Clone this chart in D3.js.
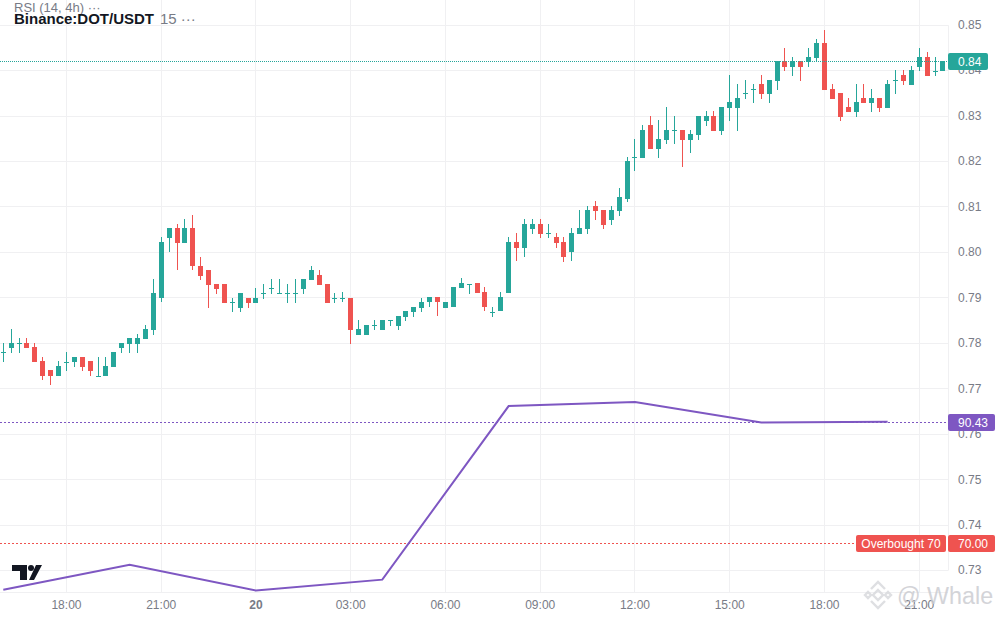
<!DOCTYPE html>
<html>
<head>
<meta charset="utf-8">
<script src="https://cdn.jsdelivr.net/npm/d3@7"></script>
<style>
  html, body { margin: 0; padding: 0; background: #fff; }
  svg { display: block; font-family: "Liberation Sans", Arial, sans-serif; }
</style>
</head>
<body>
<div id="vis"></div>
<script>
// 15 minute candles, one entry per bar, first bar is 16:00
const opens = [.778,.779,.78,.78,.7792,.7761,.7741,.7728,.776,.7759,.777,.7761,.7729,.7728,.7748,.779,.7799,.7799,.781,.783,
  .7898,.8031,.8053,.802,.8053,.7971,.7962,.7931,.7931,.7891,.7878,.79,.7889,.7911,.7922,.7911,.7911,.7911,.792,.794,
  .7951,.7931,.79,.79,.79,.7819,.7819,.7841,.783,.7851,.7839,.7859,.787,.7879,.789,.7901,.7879,.7879,.7921,.7931,
  .7932,.7912,.787,.787,.791,.8023,.8009,.8051,.8062,.8042,.8034,.8023,.8,.804,.8051,.8102,.8093,.8071,.8091,.8118,
  .821,.8208,.8281,.8228,.8248,.8269,.827,.8248,.8259,.8289,.83,.8267,.8318,.8318,.835,.8359,.837,.8349,.8377,.8421,
  .8408,.8421,.8419,.8428,.846,.8359,.8351,.832,.8309,.834,.8329,.834,.8318,.8379,.839,.8368,.8408,.843,.84,.8399];
const highs = [.78,.7832,.7812,.7812,.78,.777,.7741,.7761,.7781,.777,.777,.7761,.777,.777,.7781,.78,.7812,.7821,.7841,.7942,
  .8033,.8053,.8062,.8073,.8082,.7991,.7962,.7931,.7931,.79,.7911,.79,.7922,.7931,.7942,.7942,.7931,.7942,.7942,.7971,
  .7962,.7931,.7911,.7912,.79,.7852,.7841,.7852,.7852,.7852,.7861,.7872,.7881,.79,.7901,.7901,.7892,.7923,.7943,.7931,
  .7932,.7923,.7881,.7912,.8034,.8042,.8073,.8073,.8073,.8062,.8042,.8034,.8053,.8093,.8102,.8113,.8093,.8102,.8142,.821,
  .825,.8281,.83,.8292,.832,.83,.827,.827,.83,.8311,.8311,.832,.839,.8371,.8379,.8371,.839,.8379,.8421,.8449,
  .843,.8421,.8449,.8469,.8489,.8371,.8351,.834,.8371,.8371,.8359,.834,.8379,.8401,.8401,.841,.8449,.8441,.843,.8421];
const lows = [.7759,.7779,.7779,.779,.7759,.7719,.7708,.7728,.7739,.7748,.7739,.7728,.7729,.7728,.7748,.7779,.7779,.7779,.781,.7818,
  .7889,.8,.796,.802,.796,.794,.7878,.7909,.7889,.7869,.7869,.7878,.7889,.7898,.7909,.7911,.7889,.7889,.7909,.794,
  .7929,.7889,.7889,.789,.7799,.7819,.7819,.783,.783,.7839,.783,.785,.7859,.787,.7879,.7859,.7879,.7879,.7921,.791,
  .791,.787,.7859,.787,.791,.798,.7989,.804,.8031,.8031,.8009,.798,.798,.804,.804,.8071,.8051,.806,.808,.811,
  .818,.8208,.8228,.8208,.8239,.8239,.8188,.8219,.8248,.8278,.8267,.8259,.8289,.8267,.8338,.8329,.8338,.8329,.8357,.8399,
  .8388,.8377,.8408,.8419,.8357,.8338,.8289,.8309,.8298,.8329,.8309,.8309,.8318,.8349,.8368,.8368,.8399,.8388,.8388,.8399];
const closes = [.778,.78,.78,.779,.7759,.7728,.7728,.775,.776,.777,.7748,.7739,.7729,.775,.7781,.78,.7812,.7812,.7832,.7911,
  .8022,.8053,.802,.8053,.7969,.7949,.7929,.792,.7889,.7891,.7911,.7889,.79,.7911,.7922,.7911,.7911,.7911,.7942,.7962,
  .7929,.7889,.79,.79,.783,.7832,.7841,.7841,.7852,.7851,.7861,.7872,.7881,.7892,.7901,.789,.7892,.7923,.7932,.7931,
  .791,.7879,.787,.7901,.8023,.8009,.8062,.8062,.804,.8042,.802,.7989,.8042,.8053,.8093,.8091,.806,.8093,.8122,.8202,
  .821,.827,.8228,.825,.827,.8269,.8248,.8261,.83,.83,.8267,.832,.8331,.834,.835,.8359,.8349,.8379,.8421,.8408,
  .8421,.8408,.843,.846,.8357,.8338,.8298,.8309,.8331,.8329,.834,.8318,.8371,.8379,.8377,.8401,.843,.8388,.84,.8421];

const timeTicks = [8, 20, 32, 44, 56, 68, 80, 92, 104, 116];
const timeLabels = ["18:00", "21:00", "20", "03:00", "06:00", "09:00", "12:00", "15:00", "18:00", "21:00"];
const priceTicks = [0.73, 0.74, 0.75, 0.76, 0.77, 0.78, 0.79, 0.80, 0.81, 0.82, 0.83, 0.84, 0.85];

// RSI is on the 4h timeframe, so one point per 16 bars
const rsiBars = [0, 16, 32, 48, 64, 80, 96, 112];
const rsiValues = [62.2, 66.4, 62.05, 63.9, 93.2, 93.9, 90.43, 90.55];

const lastPrice = 0.8421;
const lastRsi = 90.43;
const overbought = 70;

const width = 1000, height = 620;
const axisX = 948, axisY = 592;
const upColor = "#26a69a", downColor = "#ef5350", gridColor = "#f0f0f2", textColor = "#787b86", rsiColor = "#7e57c2";

const x = d3.scaleLinear().domain([0, 119]).range([3.3, 942.9]);
const y = d3.scaleLinear().domain([0.73, 0.85]).range([570.6, 25.2]);
const rsiY = d3.scaleLinear().domain([70, 90.43]).range([543.5, 422.5]);

const snap = v => Math.floor(v) + .5;

const svg = d3.select("#vis").append("svg").attr("width", width).attr("height", height);

// grid
svg.append("g").selectAll("line").data(timeTicks).enter().append("line")
  .attr("x1", d => snap(x(d))).attr("x2", d => snap(x(d)))
  .attr("y1", 0).attr("y2", axisY).attr("stroke", gridColor);
svg.append("g").selectAll("line").data(priceTicks).enter().append("line")
  .attr("x1", 0).attr("x2", axisX)
  .attr("y1", d => snap(y(d))).attr("y2", d => snap(y(d)))
  .attr("stroke", gridColor);

// axes
const priceAxis = svg.append("g").attr("transform", `translate(${axisX},0)`)
  .call(d3.axisRight(y).tickValues(priceTicks).tickSize(0).tickPadding(10).offset(0).tickFormat(d3.format(".2f")));
priceAxis.select(".domain").attr("stroke", gridColor).attr("transform", "translate(.5,0)");
priceAxis.selectAll("text").attr("fill", textColor).attr("font-size", 12).attr("font-family", "inherit");

const timeAxis = svg.append("g").attr("transform", `translate(0,${axisY})`)
  .call(d3.axisBottom(x).tickValues(timeTicks).tickSize(0).tickPadding(8).offset(0).tickFormat((d, i) => timeLabels[i]));
timeAxis.select(".domain").remove();
timeAxis.selectAll("text").attr("fill", textColor).attr("font-size", 12).attr("font-family", "inherit")
  .attr("font-weight", (d, i) => timeLabels[i] === "20" ? "bold" : "normal");
svg.append("line").attr("x1", 0).attr("x2", axisX).attr("y1", axisY + .5).attr("y2", axisY + .5).attr("stroke", gridColor);

// watermark
const mark = svg.append("g").attr("transform", "translate(878,595)").attr("fill", "none")
  .attr("stroke", "#d9dade").attr("stroke-width", 2.4).attr("opacity", .85);
mark.append("path").attr("d", "M-7,-6 L0,-13 L7,-6 M-7,6 L0,13 L7,6");
mark.append("path").attr("d", "M0,-5 L5,0 L0,5 L-5,0 Z");
mark.append("path").attr("d", "M-13,0 L-10,-3 L-7,0 L-10,3 Z M13,0 L10,-3 L7,0 L10,3 Z");
svg.append("text").attr("x", 897).attr("y", 604).attr("font-size", 23.3).attr("fill", "#c9cacf").attr("opacity", .8).text("@ Whale");

// candles
const bars = svg.append("g").selectAll("g").data(opens).enter().append("g")
  .attr("fill", (d, i) => closes[i] >= d ? upColor : downColor);
bars.append("rect")
  .attr("x", (d, i) => Math.floor(x(i)))
  .attr("width", 1)
  .attr("y", (d, i) => Math.round(y(highs[i])))
  .attr("height", (d, i) => Math.round(y(lows[i]) - y(highs[i])));
bars.append("rect")
  .attr("x", (d, i) => Math.floor(x(i)) - 2)
  .attr("width", 5)
  .attr("y", (d, i) => Math.round(y(Math.max(d, closes[i]))))
  .attr("height", (d, i) => Math.max(1, Math.round(Math.abs(y(d) - y(closes[i])))));

// level lines
const levels = [
  {yPos: y(lastPrice), color: upColor, dash: "1,1"},
  {yPos: rsiY(lastRsi), color: rsiColor, dash: "2,2"},
  {yPos: rsiY(overbought), color: downColor, dash: "2,2"}
];
svg.append("g").selectAll("line").data(levels).enter().append("line")
  .attr("x1", 0).attr("x2", axisX)
  .attr("y1", d => snap(d.yPos)).attr("y2", d => snap(d.yPos))
  .attr("stroke", d => d.color).attr("stroke-dasharray", d => d.dash);

// RSI line
svg.append("path").datum(rsiValues)
  .attr("fill", "none").attr("stroke", rsiColor).attr("stroke-width", 2)
  .attr("d", d3.line().x((d, i) => x(rsiBars[i])).y(d => rsiY(d)));

// tradingview logo
svg.append("path").attr("fill", "#131722")
  .attr("d", "M12,565 H27 V580 H20 V571 H12 Z M34,580 L29,580 L36,565 L42,565 Z");
svg.append("circle").attr("cx", 31).attr("cy", 568).attr("r", 3).attr("fill", "#131722");

// axis labels
function label(x0, wid, yPos, h, color, txt, anchor) {
  svg.append("rect").attr("x", x0).attr("y", Math.floor(yPos) - 8).attr("width", wid).attr("height", h).attr("rx", 2).attr("fill", color);
  svg.append("text").attr("x", anchor === "middle" ? x0 + wid / 2 : x0 + 10).attr("y", Math.floor(yPos) + 4.5)
    .attr("font-size", 12).attr("fill", "#fff").attr("text-anchor", anchor || "start").text(txt);
}
label(948, 40, y(lastPrice), 17, upColor, "0.84");
label(948, 47, rsiY(lastRsi), 17, rsiColor, "90.43");
label(856, 90, rsiY(overbought), 17, downColor, "Overbought 70", "middle");
label(948, 47, rsiY(overbought), 17, downColor, "70.00");

// legend
svg.append("text").attr("x", 14).attr("y", 12).attr("font-size", 13).attr("fill", "#787b86").text("RSI (14, 4h) \u00b7\u00b7\u00b7");
const title = svg.append("text").attr("x", 14).attr("y", 24);
title.append("tspan").attr("font-size", 15).attr("font-weight", "bold").attr("fill", "#131722").text("Binance:DOT/USDT");
title.append("tspan").attr("dx", 6).attr("font-size", 15).attr("fill", "#787b86").text("15 \u00b7\u00b7\u00b7");
</script>
</body>
</html>
